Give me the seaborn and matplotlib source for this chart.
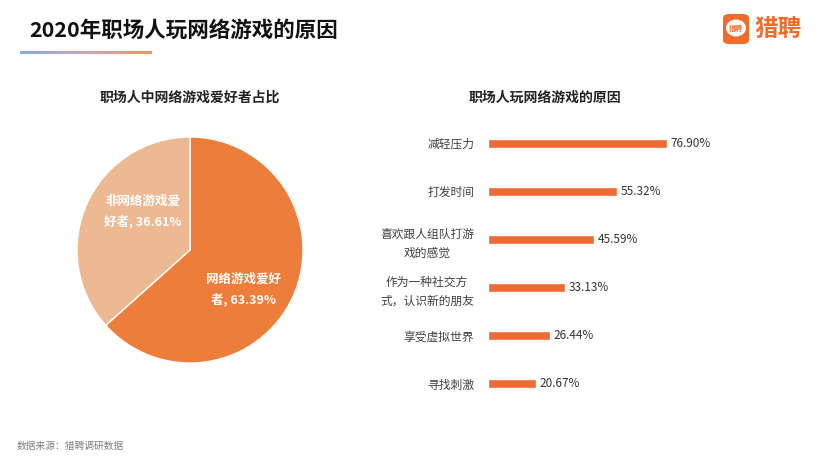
import numpy as np
import pandas as pd
import seaborn as sns
import matplotlib.pyplot as plt
from matplotlib.patches import FancyBboxPatch, Ellipse
from matplotlib.colors import LinearSegmentedColormap

# data
pie_labels = ["网络游戏爱好者", "非网络游戏爱好者"]
pie_values = [63.39, 36.61]
reasons = ["减轻压力", "打发时间", "喜欢跟人组队打游\n戏的感觉", "作为一种社交方\n式，认识新的朋友", "享受虚拟世界", "寻找刺激"]
reason_pct = [76.90, 55.32, 45.59, 33.13, 26.44, 20.67]

sns.set_style("white")
plt.rcParams['font.family'] = ['Noto Sans CJK SC', 'DejaVu Sans']

W, H = 832, 468
fig = plt.figure(figsize=(W / 100, H / 100), dpi=100)

def fx(px):
    return px / W

def fy(py):
    return 1 - py / H

# title, gradient line, logo
fig.text(fx(29), fy(30), "2020年职场人玩网络游戏的原因", fontsize=15.5, fontweight="bold",
         color="#111111", va="center", ha="left")
grad_ax = fig.add_axes([fx(20), fy(54), fx(132), 3 / H])
grad = np.linspace(0, 1, 256).reshape(1, -1)
cmap = LinearSegmentedColormap.from_list("g", ["#86ABE3", "#C9A6B8", "#F2965A"])
grad_ax.imshow(grad, aspect="auto", cmap=cmap)
grad_ax.axis("off")

logo = FancyBboxPatch((fx(723), fy(44)), fx(26), 30 / H, boxstyle="round,pad=0,rounding_size=0.008",
                      transform=fig.transFigure, facecolor="#F26B2B", edgecolor="none")
fig.patches.append(logo)
bubble = Ellipse((fx(736), fy(28)), fx(20), 17 / H, transform=fig.transFigure,
                 facecolor="white", edgecolor="none")
fig.patches.append(bubble)
fig.text(fx(736), fy(28), "猎聘", fontsize=5, color="#F26B2B", ha="center", va="center", fontweight="bold")
fig.text(fx(754), fy(29), "猎聘", fontsize=17, color="#F26B2B", ha="left", va="center", fontweight="bold")

# pie
fig.text(fx(190), fy(98), "职场人中网络游戏爱好者占比", fontsize=10, fontweight="bold",
         color="#222222", ha="center", va="center")
pie_ax = fig.add_axes([fx(77), fy(363), fx(226), 226 / H])
pie_ax.pie(pie_values, colors=["#ED7D3A", "#EDB992"], startangle=90, counterclock=False,
           wedgeprops=dict(edgecolor="white", linewidth=1))
pie_ax.set_xlim(-1, 1)
pie_ax.set_ylim(-1, 1)
pie_ax.text(0.47, -0.35, "网络游戏爱好\n者, %.2f%%" % pie_values[0], color="white", fontsize=9,
            fontweight="bold", ha="center", va="center", linespacing=1.6)
pie_ax.text(-0.42, 0.34, "非网络游戏爱\n好者, %.2f%%" % pie_values[1], color="white", fontsize=9,
            fontweight="bold", ha="center", va="center", linespacing=1.6)

# bars
fig.text(fx(545), fy(98), "职场人玩网络游戏的原因", fontsize=10, fontweight="bold",
         color="#222222", ha="center", va="center")
bar_ax = fig.add_axes([fx(488), fy(408), fx(233), 289 / H])
df = pd.DataFrame({"reason": reasons, "pct": reason_pct})
sns.barplot(data=df, y="reason", x="pct", orient="h", color="#EE6A33", width=0.19,
            saturation=1, ax=bar_ax)
bar_ax.set_xlim(0, 100)
bar_ax.set_ylim(5.5, -0.5)
bar_ax.set_xlabel("")
bar_ax.set_ylabel("")
bar_ax.set_xticks([])
bar_ax.tick_params(axis="y", length=0, pad=10, labelsize=8.5, labelcolor="#404040")
for lab in bar_ax.get_yticklabels():
    lab.set_horizontalalignment("right")
    lab.set_multialignment("center")
    lab.set_linespacing(1.6)
for i, v in enumerate(reason_pct):
    bar_ax.text(v + 1.5, i, "%.2f%%" % v, va="center", ha="left", fontsize=8.5, color="#333333")
for s in bar_ax.spines.values():
    s.set_visible(False)

# source
fig.text(fx(17), fy(446), "数据来源：猎聘调研数据", fontsize=7, color="#808080", ha="left", va="center")

fig.savefig("out.png", dpi=100)
